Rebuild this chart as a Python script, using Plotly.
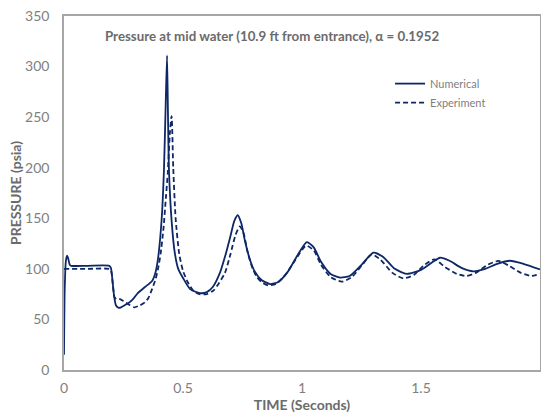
import plotly.graph_objects as go

# numerical solution
t_num = [0, 0.003, 0.008, 0.013, 0.018, 0.024, 0.03, 0.1, 0.19, 0.197, 0.203,
         0.21, 0.218, 0.228, 0.24, 0.255, 0.27, 0.29, 0.31, 0.34, 0.37, 0.385,
         0.395, 0.41, 0.42, 0.427, 0.433, 0.437, 0.441, 0.452, 0.466, 0.48,
         0.5, 0.53, 0.571, 0.6, 0.625, 0.655, 0.68, 0.7, 0.715, 0.73, 0.745,
         0.76, 0.78, 0.8, 0.83, 0.866, 0.9, 0.94, 0.98, 1.02, 1.05, 1.08, 1.12,
         1.16, 1.2, 1.25, 1.3, 1.34, 1.39, 1.44, 1.5, 1.55, 1.58, 1.62, 1.67,
         1.72, 1.77, 1.82, 1.874, 1.93, 2.0]
p_num = [15, 80, 108, 113, 110, 104, 103, 103, 103, 101, 90,
         74, 64, 61.6, 62, 64, 66, 70, 76, 82, 88, 97,
         110, 148, 198, 260, 311, 250, 198, 148, 115, 100,
         91, 80, 76, 77, 82, 96, 115, 133, 147, 153, 145,
         128, 110, 98, 89, 85, 87, 97, 113, 126.5, 121, 107, 95,
         91.3, 93, 104, 116, 112, 100, 95, 99, 107, 111, 108, 101,
         97.6, 100, 105, 108, 105, 99.5]

# experiment
t_exp = [0, 0.1, 0.19, 0.198, 0.205, 0.212, 0.22, 0.235, 0.25, 0.27, 0.295,
         0.32, 0.34, 0.354, 0.37, 0.385, 0.395, 0.406, 0.418, 0.428, 0.436,
         0.445, 0.452, 0.459, 0.469, 0.484, 0.5, 0.522, 0.545, 0.57, 0.6,
         0.63, 0.676, 0.7, 0.72, 0.739, 0.755, 0.77, 0.79, 0.81, 0.835, 0.858,
         0.89, 0.93, 0.97, 1.017, 1.05, 1.08, 1.12, 1.167, 1.21, 1.25, 1.293,
         1.33, 1.38, 1.426, 1.47, 1.51, 1.555, 1.6, 1.65, 1.69, 1.73, 1.78,
         1.825, 1.87, 1.92, 1.965, 2.0]
p_exp = [100, 100, 100, 98, 85, 72, 70, 70, 68, 65, 62,
         64, 67, 71, 80, 90, 100, 115, 140, 170, 195,
         235, 251, 200, 150, 115, 98, 86, 78, 75, 75,
         79, 96, 115, 133, 142, 135, 118, 102, 92, 86, 83.7,
         85, 94, 108, 123, 118, 104, 92, 87.3, 92, 103, 114.4,
         109, 96, 90.6, 94, 103, 109.4, 102, 95, 93, 96, 104,
         107.8, 103, 96, 93, 95]

navy = "#0e2766"
grey = "#808080"
dark_grey = "#6b6b6b"
font = "Lato, Open Sans, sans-serif"

fig = go.Figure()
fig.add_trace(go.Scatter(x=t_num, y=p_num, name="Numerical", mode="lines",
                         line=dict(color=navy, width=1.8, shape="spline", smoothing=0.6)))
fig.add_trace(go.Scatter(x=t_exp, y=p_exp, name="Experiment", mode="lines",
                         line=dict(color=navy, width=1.8, dash="5px,3px",
                                   shape="spline", smoothing=0.6)))

fig.update_layout(
    width=541, height=420,
    margin=dict(l=64, r=1, t=16, b=50),
    paper_bgcolor="white", plot_bgcolor="white",
    font=dict(family=font, color=grey, size=14),
    showlegend=True,
    legend=dict(x=0.685, y=0.85, xanchor="left", yanchor="top",
                font=dict(size=11, color=grey), bgcolor="rgba(0,0,0,0)",
                itemwidth=30, tracegroupgap=0),
    annotations=[dict(text="<b>Pressure at mid water (10.9 ft from entrance), α = 0.1952</b>",
                      x=0.437, y=0.943, xref="paper", yref="paper", showarrow=False,
                      xanchor="center", yanchor="middle",
                      font=dict(size=13.3, color=dark_grey))],
)
fig.update_xaxes(range=[0, 2], tickvals=[0, 0.5, 1, 1.5, 2],
                 ticktext=["0", "0.5", "1", "1.5", "2"], automargin=False,
                 showgrid=False, zeroline=False, showline=True, mirror=True,
                 linecolor="#a6a6a6", linewidth=1.5, ticks="", ticklabelstandoff=4,
                 title=dict(text="<b>TIME (Seconds)</b>", font=dict(size=14, color=dark_grey), standoff=2))
fig.update_yaxes(range=[0, 350], tickvals=list(range(0, 351, 50)), automargin=False,
                 showgrid=False, zeroline=False, showline=True, mirror=True,
                 linecolor="#a6a6a6", linewidth=1.5, ticks="", ticklabelstandoff=10,
                 title=dict(text="<b>PRESSURE (psia)</b>", font=dict(size=14, color=dark_grey), standoff=0))

# drop the default 8px body margin so the figure sits at the top-left corner
fig.write_html("out.html", config={"displayModeBar": False},
               post_script="document.body.style.margin='0';")
